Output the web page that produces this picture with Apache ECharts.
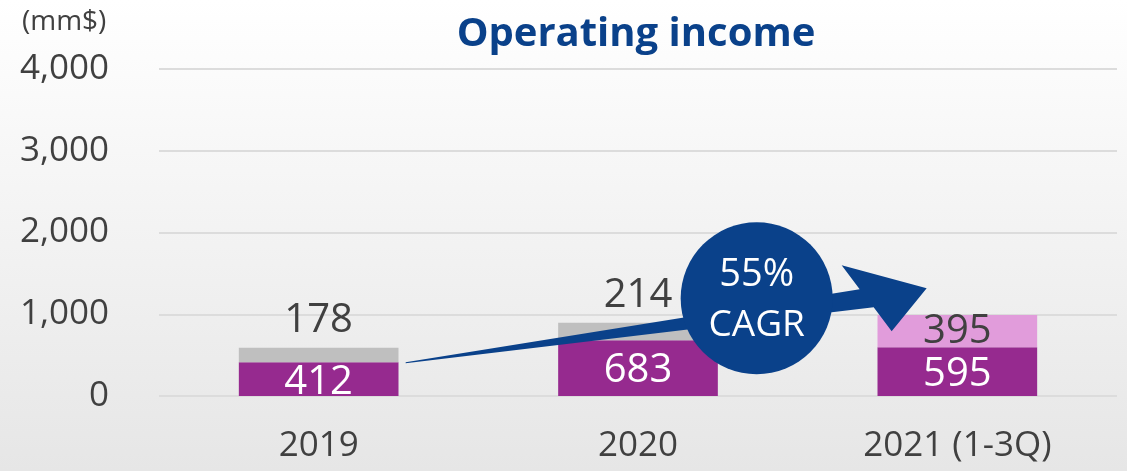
<!DOCTYPE html>
<html>
<head>
<meta charset="utf-8">
<script src="https://cdn.jsdelivr.net/npm/echarts@6/dist/echarts.min.js"></script>
<style>
  html, body { margin: 0; padding: 0; }
  #chart { width: 1127px; height: 471px; }
</style>
</head>
<body>
<div id="chart"></div>
<script>
// data
const years = ['2019', '2020', '2021 (1-3Q)']
const baseValues = [412, 683, 595]      // purple segment
const topValues = [178, 214, 395]       // gray / pink segment
const yTicks = { min: 0, max: 4000, interval: 1000 }
const cagrText = ['55%', 'CAGR']

const FONT = '"Open Sans", "Noto Sans", sans-serif'
const purple = '#962a8f'
const gray = '#bfbfbf'
const pink = '#e19cdb'
const blue = '#0a418a'
const textDark = '#404040'

const chart = echarts.init(document.getElementById('chart'))

const topData = topValues.map((v, i) => {
  const last = i === topValues.length - 1
  return {
    value: v,
    itemStyle: { color: last ? pink : gray },
    label: last ? { position: 'inside' } : { position: 'top', distance: 7 }
  }
})

chart.setOption({
  backgroundColor: new echarts.graphic.LinearGradient(0, 0, 0, 1, [
    { offset: 0, color: '#ffffff' },
    { offset: 1, color: '#e6e6e6' }
  ]),
  title: [
    {
      text: 'Operating income',
      left: 631, top: 10, textAlign: 'center',
      textStyle: { fontFamily: FONT, fontWeight: 'bold', fontSize: 40, color: blue }
    },
    {
      text: '(mm$)',
      left: 17, top: 3,
      textStyle: { fontFamily: FONT, fontWeight: 'normal', fontSize: 28, color: textDark }
    }
  ],
  grid: { left: 159, right: 10, top: 69, bottom: 75 },
  xAxis: {
    type: 'category',
    data: years,
    axisLine: { show: false },
    axisTick: { show: false },
    axisLabel: { fontFamily: FONT, fontSize: 35, color: textDark, margin: 33 }
  },
  yAxis: {
    type: 'value',
    min: yTicks.min, max: yTicks.max, interval: yTicks.interval,
    axisLabel: { fontFamily: FONT, fontSize: 35, color: textDark, margin: 50 },
    splitLine: { lineStyle: { color: '#dcdcdc', width: 2 } }
  },
  series: [
    {
      type: 'bar', stack: 'oi', barWidth: '50%',
      data: baseValues,
      itemStyle: { color: purple },
      label: { show: true, position: 'inside', fontFamily: FONT, fontSize: 40, color: '#fff', offset: [0, 3] }
    },
    {
      type: 'bar', stack: 'oi',
      data: topData,
      label: { show: true, fontFamily: FONT, fontSize: 40, color: textDark }
    }
  ]
})

// CAGR arrow + bubble, anchored on the 2019 purple bar
function drawCagr() {
  const p = chart.convertToPixel({ seriesIndex: 0 }, [0, baseValues[0]])
  const sx = p[0] + 87, sy = p[1]
  const pts = [
    [0, 0], [454, -73], [436, -97], [521, -74], [486, -31], [468, -55], [0, 1]
  ].map(d => [sx + d[0], sy + d[1]])
  chart.setOption({
    graphic: [
      { type: 'polygon', shape: { points: pts }, style: { fill: blue }, z: 10 },
      { type: 'circle', shape: { cx: sx + 351, cy: sy - 64, r: 76 }, style: { fill: blue }, z: 11 },
      {
        type: 'text', x: sx + 351, y: sy - 87, z: 12,
        style: { text: cagrText[0], fill: '#fff', font: '38px ' + FONT, align: 'center', verticalAlign: 'middle' }
      },
      {
        type: 'text', x: sx + 351, y: sy - 37, z: 12,
        style: { text: cagrText[1], fill: '#fff', font: '37px ' + FONT, align: 'center', verticalAlign: 'middle' }
      }
    ]
  })
}
drawCagr()
</script>
</body>
</html>
